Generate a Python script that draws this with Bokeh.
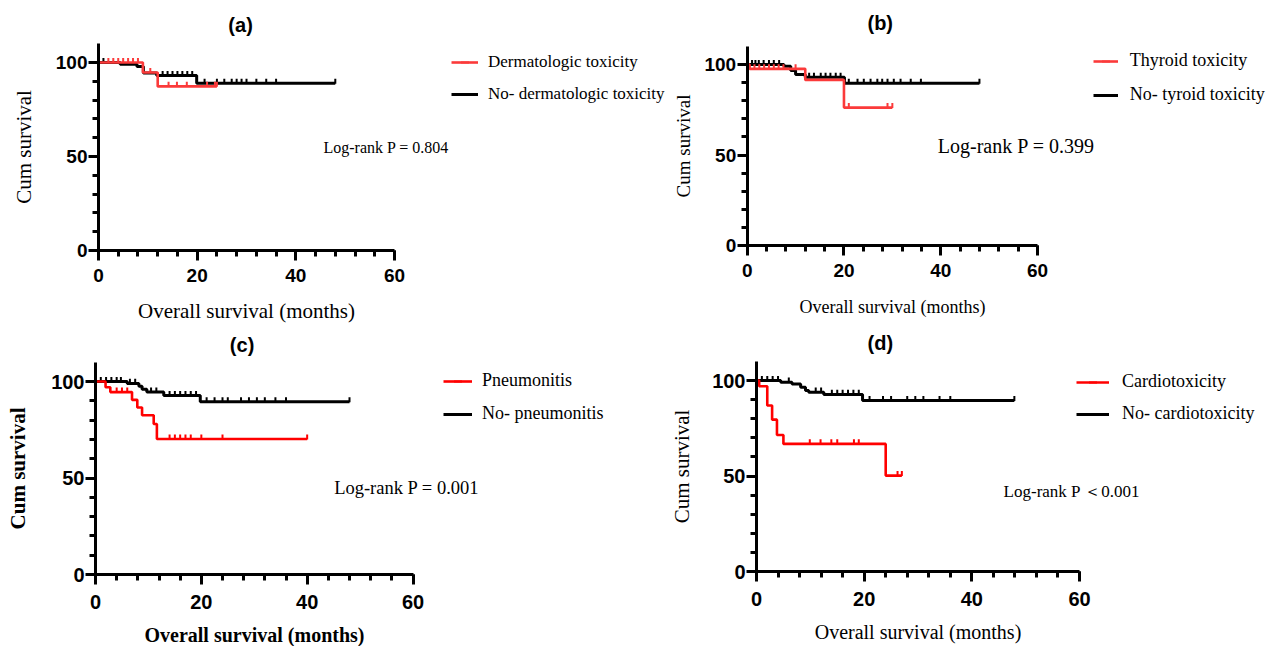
import math
from bokeh.plotting import figure
from bokeh.layouts import column, row
from bokeh.models import Range1d, FixedTicker, Legend, LegendItem, Label
from bokeh.embed import file_html
from bokeh.resources import INLINE

# ---------------- data ----------------
X_TICKS = [0, 20, 40, 60]
X_MINOR = [0, 4, 8, 12, 16, 20, 24, 28, 32, 36, 40, 44, 48, 52, 56, 60]
Y_TICKS = [0, 50, 100]
Y_MINOR = [0, 10, 20, 30, 40, 50, 60, 70, 80, 90, 100]
X_LABEL = "Overall survival (months)"
Y_LABEL = "Cum survival"

# (a)
A_TITLE = "(a)"
A_PVAL = "Log-rank P = 0.804"
A_RED_NAME = "Dermatologic toxicity"
A_BLACK_NAME = "No- dermatologic toxicity"
A_RED_T = [0, 9, 12, 24]
A_RED_S = [100, 94.7, 87.3, 87.3]
A_RED_CENS = [2, 3, 4, 5, 6, 7, 8, 10.5, 14.2, 15.9, 17.9, 22, 23.6, 24]
A_BLACK_T = [0, 4.4, 7.8, 9.1, 11.8, 19.9, 48]
A_BLACK_S = [100, 99.1, 97.9, 94.4, 93.1, 88.9, 88.9]
A_BLACK_CENS = [1, 13, 14, 15, 16, 17, 18, 19, 21.5, 24, 25.5, 27, 28, 29, 30, 32, 34, 36, 48]

# (b)
B_TITLE = "(b)"
B_PVAL = "Log-rank P = 0.399"
B_RED_NAME = "Thyroid toxicity"
B_BLACK_NAME = "No- tyroid toxicity"
B_RED_T = [0, 0.5, 12, 20, 30]
B_RED_S = [100, 97.6, 91.5, 76.2, 76.2]
B_RED_CENS = [1.5, 2.5, 3.5, 4.5, 5.5, 6.5, 7.5, 10, 21, 29, 30]
B_BLACK_T = [0, 7.6, 9, 10, 12, 20.1, 48]
B_BLACK_S = [100, 99, 96.7, 94.5, 93, 89.7, 89.7]
B_BLACK_CENS = [1, 1.7, 2.4, 3.4, 4.5, 5.5, 6.6, 12.8, 13.8, 15.2, 16.2, 17.2, 18.3, 19.3,
                21, 22.8, 24.1, 25.5, 26.9, 27.9, 29, 30.3, 31.7, 33.8, 35.9, 48]

# (c)
C_TITLE = "(c)"
C_PVAL = "Log-rank P = 0.001"
C_RED_NAME = "Pneumonitis"
C_BLACK_NAME = "No- pneumonitis"
C_RED_T = [0, 1.9, 2.8, 6.9, 7.9, 8.8, 11, 11.6, 40]
C_RED_S = [100, 97, 94.5, 90.5, 86.5, 82.5, 78, 70.2, 70.2]
C_RED_CENS = [4, 5, 6, 14, 15, 16, 17, 18, 20, 24, 40]
C_BLACK_T = [0, 6.0, 8.2, 8.8, 9.7, 12.9, 19.8, 48]
C_BLACK_S = [100, 99, 97.5, 96, 94.5, 92.7, 89.5, 89.5]
C_BLACK_CENS = [1, 2, 3, 4, 4.8, 6.5, 7.5, 10.5, 11.5, 14, 15, 16, 17, 18, 19,
                21, 22.5, 24, 25, 27.5, 29, 30.5, 32, 34, 36, 48]

# (d)
D_TITLE = "(d)"
D_PVAL = "Log-rank P \uff1c0.001"
D_RED_NAME = "Cardiotoxicity"
D_BLACK_NAME = "No- cardiotoxicity"
D_RED_T = [0, 0.5, 2.0, 2.9, 3.8, 5.0, 24, 27]
D_RED_S = [100, 97, 86.9, 79.5, 71.5, 66.8, 50.2, 50.2]
D_RED_CENS = [9.9, 11.9, 13.9, 15, 18.1, 19, 26.2, 27]
D_BLACK_T = [0, 4.5, 6.6, 8.2, 9.1, 9.7, 12.5, 19.7, 47.9]
D_BLACK_S = [100, 99.1, 98.2, 96.5, 94.8, 93.9, 92.7, 89.5, 89.5]
D_BLACK_CENS = [1, 2, 3, 4, 6, 11, 12, 14, 15, 16, 17, 18, 19,
                21, 23.5, 25, 28, 29.5, 31, 34, 36, 47.9]


def step_value(ts, ss, t):
    v = ss[0]
    for ti, si in zip(ts, ss):
        if ti <= t:
            v = si
    return v


SERIF = "Liberation Serif"
SANS = "Liberation Sans"
X_MAX = 60
Y_MAX = 110


def make_panel(title, pval, red_name, black_name, red_t, red_s, red_cens,
               black_t, black_s, black_cens, g):
    # g holds page geometry: panel offset/size, axis origin and the 60 / 100 positions
    px, py, w, h = g["box"]
    ox, oy, x60, y100 = g["axes"]
    sx = (x60 - ox) / 60.0
    sy = (oy - y100) / 100.0
    p = figure(width=w, height=h, output_backend="svg", toolbar_location=None,
               x_range=Range1d(-(ox - px) / sx, (px + w - ox) / sx),
               y_range=Range1d(-(py + h - oy) / sy, (oy - py) / sy),
               min_border=0)
    p.xgrid.visible = False
    p.ygrid.visible = False
    p.outline_line_color = None
    p.background_fill_color = "white"
    p.border_fill_color = "white"

    xa = p.xaxis[0]
    ya = p.yaxis[0]
    xa.fixed_location = 0
    ya.fixed_location = 0
    xa.bounds = (0, X_MAX)
    ya.bounds = (0, Y_MAX)
    xa.ticker = FixedTicker(ticks=X_TICKS, minor_ticks=X_MINOR)
    ya.ticker = FixedTicker(ticks=Y_TICKS, minor_ticks=Y_MINOR)
    for ax in (xa, ya):
        ax.axis_line_width = 3
        ax.axis_line_color = "black"
        ax.major_tick_line_width = 3
        ax.minor_tick_line_width = 3
        ax.major_tick_line_color = "black"
        ax.minor_tick_line_color = "black"
        ax.major_tick_out = 10
        ax.major_tick_in = 0
        ax.minor_tick_out = 6
        ax.minor_tick_in = 0
        ax.major_label_text_font = SANS
        ax.major_label_text_font_style = "bold"
        ax.major_label_text_font_size = g["tick_fs"]
        ax.major_label_text_color = "black"
        ax.axis_label_text_font = SERIF
        ax.axis_label_text_font_style = g["lab_style"]
        ax.axis_label_text_color = "black"
    xa.axis_label = X_LABEL
    ya.axis_label = Y_LABEL
    xa.axis_label_text_font_size = g["xlab_fs"]
    ya.axis_label_text_font_size = g["ylab_fs"]
    xa.major_label_standoff = g["x_std"]
    ya.major_label_standoff = 1
    xa.axis_label_standoff = g["xlab_std"]
    ya.axis_label_standoff = g["ylab_std"]

    black = "black"
    red = g["red"]
    up = 1.1  # censor tick sits just above the curve
    rb = p.step(x=black_t, y=black_s, mode="after", line_color=black, line_width=3)
    cb = p.scatter(x=black_cens, y=[step_value(black_t, black_s, t) + up for t in black_cens],
                   marker="dash", angle=math.pi / 2, size=5, line_color=black, line_width=2)
    rr = p.step(x=red_t, y=red_s, mode="after", line_color=red, line_width=2.6)
    cr = p.scatter(x=red_cens, y=[step_value(red_t, red_s, t) + up for t in red_cens],
                   marker="dash", angle=math.pi / 2, size=5, line_color=red, line_width=2)

    lx, ly = g["leg_off"]
    legend = Legend(items=[LegendItem(label=red_name, renderers=[rr, cr]),
                           LegendItem(label=black_name, renderers=[rb, cb])],
                    location=(ox - px + lx, py + h - oy + ly), orientation="vertical",
                    glyph_width=g["glyph_w"], glyph_height=20, label_height=20,
                    label_standoff=g["leg_std"], spacing=g["leg_sp"], padding=0, margin=0,
                    label_text_font=SERIF, label_text_font_size=g["leg_fs"],
                    label_text_color="black",
                    border_line_alpha=0, background_fill_alpha=0)
    p.add_layout(legend)

    p.add_layout(Label(x=g["title_xy"][0], y=g["title_xy"][1], text=title,
                       text_font=SANS, text_font_style="bold", text_font_size="20px",
                       text_align="center", text_baseline="middle", text_color="black"))
    p.add_layout(Label(x=g["p_xy"][0], y=g["p_xy"][1], text=pval,
                       text_font=SERIF, text_font_size=g["p_fs"],
                       text_align="left", text_baseline="middle", text_color="black"))
    return p


GA = dict(box=(0, 0, 672, 323), axes=(98, 250, 394, 62), red="#fb3a3a",
          tick_fs="19px", xlab_fs="21px", ylab_fs="21px", lab_style="normal",
          x_std=8, xlab_std=14, ylab_std=17,
          leg_off=(353, 146), glyph_w=27, leg_std=10, leg_sp=12, leg_fs="17px",
          title_xy=(28.8, 119.7), p_xy=(45.6, 54.8), p_fs="16px")
GB = dict(box=(672, 0, 604, 323), axes=(746.7, 245, 1037, 64), red="#fb3a3a",
          tick_fs="19px", xlab_fs="18px", ylab_fs="19px", lab_style="normal",
          x_std=8, xlab_std=17, ylab_std=8,
          leg_off=(346, 140), glyph_w=25, leg_std=12, leg_sp=13, leg_fs="18px",
          title_xy=(27.5, 123), p_xy=(39.4, 54.7), p_fs="20px")
GC = dict(box=(0, 323, 640, 323), axes=(95, 574, 412.5, 381), red="#ff0000",
          tick_fs="20px", xlab_fs="20px", ylab_fs="21px", lab_style="bold",
          x_std=10, xlab_std=12, ylab_std=18,
          leg_off=(348, 150), glyph_w=29, leg_std=10, leg_sp=12, leg_fs="18px",
          title_xy=(27.7, 118.7), p_xy=(45.1, 45), p_fs="18.5px")
GD = dict(box=(640, 323, 636, 323), axes=(756, 571, 1079, 380), red="#ff0000",
          tick_fs="20px", xlab_fs="20px", ylab_fs="21px", lab_style="normal",
          x_std=10, xlab_std=12, ylab_std=15,
          leg_off=(320, 147), glyph_w=33, leg_std=13, leg_sp=11, leg_fs="18px",
          title_xy=(23, 119.4), p_xy=(45.9, 41.9), p_fs="17px")

pa = make_panel(A_TITLE, A_PVAL, A_RED_NAME, A_BLACK_NAME, A_RED_T, A_RED_S, A_RED_CENS,
                A_BLACK_T, A_BLACK_S, A_BLACK_CENS, GA)
pb = make_panel(B_TITLE, B_PVAL, B_RED_NAME, B_BLACK_NAME, B_RED_T, B_RED_S, B_RED_CENS,
                B_BLACK_T, B_BLACK_S, B_BLACK_CENS, GB)
pc = make_panel(C_TITLE, C_PVAL, C_RED_NAME, C_BLACK_NAME, C_RED_T, C_RED_S, C_RED_CENS,
                C_BLACK_T, C_BLACK_S, C_BLACK_CENS, GC)
pd = make_panel(D_TITLE, D_PVAL, D_RED_NAME, D_BLACK_NAME, D_RED_T, D_RED_S, D_RED_CENS,
                D_BLACK_T, D_BLACK_S, D_BLACK_CENS, GD)

layout = column(row(pa, pb, spacing=0), row(pc, pd, spacing=0), spacing=0)
open("out.html", "w").write(file_html(layout, INLINE))
